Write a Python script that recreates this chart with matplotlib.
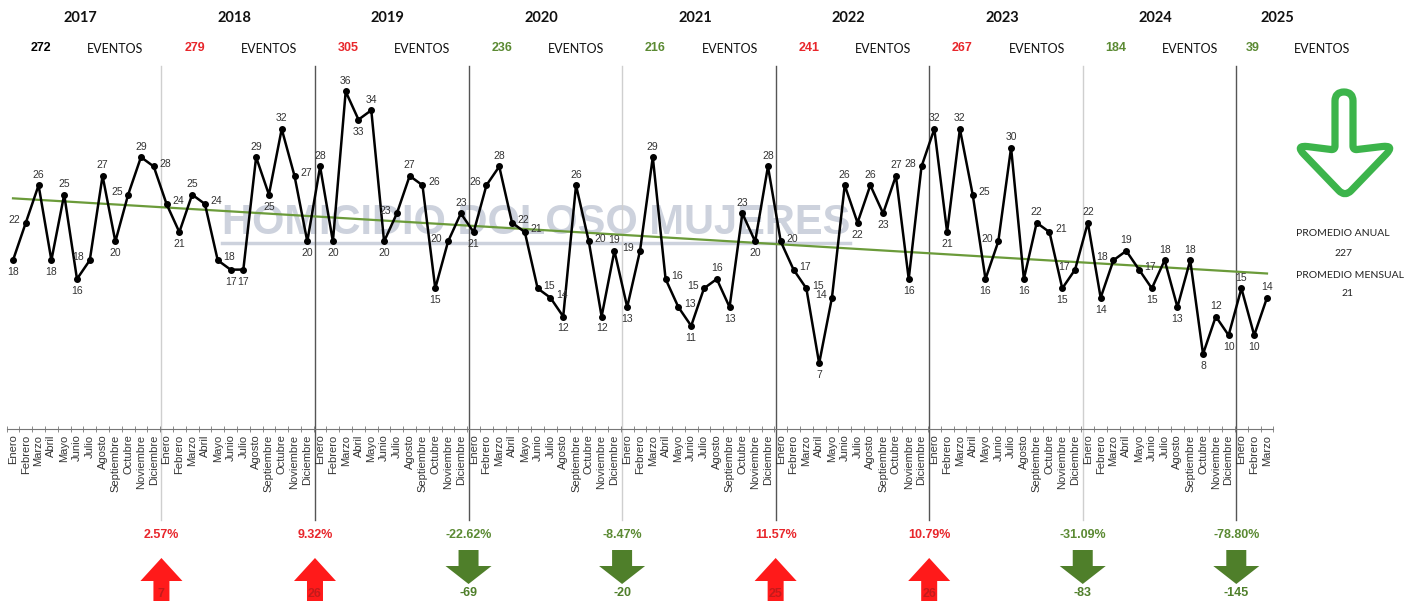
import matplotlib
matplotlib.use('Agg')
import matplotlib.pyplot as plt
import numpy as np
from matplotlib.path import Path
from matplotlib.patches import PathPatch, Polygon
from matplotlib import font_manager

# datos mensuales
meses = ['Enero', 'Febrero', 'Marzo', 'Abril', 'Mayo', 'Junio', 'Julio', 'Agosto',
         'Septiembre', 'Octubre', 'Noviembre', 'Diciembre']
anios = [2017, 2018, 2019, 2020, 2021, 2022, 2023, 2024, 2025]
v2017 = [18, 22, 26, 18, 25, 16, 18, 27, 20, 25, 29, 28]
v2018 = [24, 21, 25, 24, 18, 17, 17, 29, 25, 32, 27, 20]
v2019 = [28, 20, 36, 33, 34, 20, 23, 27, 26, 15, 20, 23]
v2020 = [21, 26, 28, 22, 21, 15, 14, 12, 26, 20, 12, 19]
v2021 = [13, 19, 29, 16, 13, 11, 15, 16, 13, 23, 20, 28]
v2022 = [20, 17, 15, 7, 14, 26, 22, 26, 23, 27, 16, 28]
v2023 = [32, 21, 32, 25, 16, 20, 30, 16, 22, 21, 15, 17]
v2024 = [22, 14, 18, 19, 17, 15, 18, 13, 18, 8, 12, 10]
v2025 = [15, 10, 14]
por_anio = [v2017, v2018, v2019, v2020, v2021, v2022, v2023, v2024, v2025]

valores = np.array(sum(por_anio, []))
etiquetas = sum([meses[:len(v)] for v in por_anio], [])
x = np.arange(len(valores))
totales = [sum(v) for v in por_anio]
cambios = np.diff(totales)
porcentajes = cambios / np.array(totales[:-1]) * 100

ROJO = '#e8262b'
VERDE = '#5b8a33'
W, H = 1414, 601

names = {f.name for f in font_manager.fontManager.ttflist}
narrow = 'Liberation Sans Narrow' if 'Liberation Sans Narrow' in names else 'Liberation Sans'
titulo = 'Lato' if 'Lato' in names else 'DejaVu Sans'
plt.rcParams['font.family'] = ['Liberation Sans', 'DejaVu Sans']

fig = plt.figure(figsize=(W / 100, H / 100), dpi=100)
ax = fig.add_axes([6.6 / W, (H - 429) / H, 1266.8 / W, 38 * 9.375 / H])
ax.patch.set_alpha(0)
ax.set_xlim(-0.5, len(valores) - 0.5)
ax.set_ylim(0, 38)
for s in ['left', 'top', 'right']:
    ax.spines[s].set_visible(False)
ax.spines['bottom'].set_color('#777777')
ax.spines['bottom'].set_linewidth(0.8)
ax.set_yticks([])
ax.set_xticks(x)
ax.set_xticklabels(etiquetas, rotation=90, fontsize=8, color='#333333')
ax.tick_params(axis='x', which='major', length=0, pad=4)
ax.set_xticks(np.arange(-0.5, len(valores)), minor=True)
ax.tick_params(axis='x', which='minor', length=4, direction='inout', color='#777777')

# marca de agua
ax.text(40.9, 22.0, 'HOMICIDIO DOLOSO MUJERES', ha='center', va='center', fontsize=30,
        weight='bold', color='#cdd2dd', zorder=0)
ax.plot([16.3, 65.4], [19.8, 19.8], color='#cdd2dd', lw=2.5, zorder=0)

# lineas de cada año
col_lineas = ['#cfcfcf', '#555555', '#555555', '#cfcfcf', '#555555', '#555555', '#cfcfcf', '#555555']
for k, c in enumerate(col_lineas, start=1):
    ax.axvline(12 * k - 0.4, ymin=-0.255, ymax=1.02, color=c, lw=1, clip_on=False, zorder=1)

# tendencia
m, b = np.polyfit(x, valores, 1)
ax.plot(x, m * x + b, color='#6b9b3a', lw=1.6, zorder=2)

ax.plot(x, valores, 'o-', color='black', lw=1.8, ms=4, zorder=3)
for i, v in enumerate(valores):
    prev = valores[i - 1] if i > 0 else v
    nxt = valores[i + 1] if i < len(valores) - 1 else v
    if v >= max(prev, nxt):
        off, ha, va = (0, 4), 'center', 'bottom'
    elif v <= min(prev, nxt):
        off, ha, va = (0, -5), 'center', 'top'
    elif nxt > prev:
        off, ha, va = (-4, 2), 'right', 'center'
    else:
        off, ha, va = (4, 2), 'left', 'center'
    ax.annotate(str(v), (i, v), xytext=off, textcoords='offset points', ha=ha, va=va,
                fontsize=7.5, color='#333333', zorder=4)

# capa en pixeles
ov = fig.add_axes([0, 0, 1, 1])
ov.set_xlim(0, W)
ov.set_ylim(H, 0)
ov.axis('off')
ov.patch.set_alpha(0)


def px(i):
    return ax.transData.transform((i, 0))[0]


# encabezados
pos_anio = [12 * k + 5.3 for k in range(8)] + [98.8]
pos_num = [12 * k + 2.2 for k in range(8)] + [96.9]
pos_ev = [12 * k + 8.0 for k in range(8)] + [102.3]
col_num = ['black'] + [ROJO if c > 0 else VERDE for c in cambios]
for k, a in enumerate(anios):
    ov.text(px(pos_anio[k]), 18, str(a), ha='center', va='center', fontsize=10.5,
            weight='bold', family=titulo, color='#111111')
    ov.text(px(pos_num[k]), 48, str(totales[k]), ha='center', va='center', fontsize=9,
            weight='bold', family=narrow, color=col_num[k])
    ov.text(px(pos_ev[k]), 49, 'EVENTOS', ha='center', va='center', fontsize=9,
            family=titulo, color='#111111')

# flechas de variacion anual
for k, (c, p) in enumerate(zip(cambios, porcentajes), start=1):
    cx = px(12 * k - 0.4)
    col = ROJO if c > 0 else VERDE
    ov.text(cx, 535, f'{p:.2f}%', ha='center', va='center', fontsize=9, weight='bold',
            family=narrow, color=col)
    if c > 0:
        pts = [(cx, 558), (cx + 21, 581), (cx + 8, 581), (cx + 8, 606), (cx - 8, 606),
               (cx - 8, 581), (cx - 21, 581)]
        ov.add_patch(Polygon(pts, closed=True, color='#ff1a1a', lw=0))
        ov.text(cx, 594, str(c), ha='center', va='center', fontsize=9, weight='bold',
                family=narrow, color='#c41a1a')
    else:
        pts = [(cx - 10, 550), (cx + 10, 550), (cx + 10, 566), (cx + 23, 566), (cx, 584),
               (cx - 23, 566), (cx - 10, 566)]
        ov.add_patch(Polygon(pts, closed=True, color='#4f7f2a', lw=0))
        ov.text(cx, 593, str(c), ha='center', va='center', fontsize=9, weight='bold',
                family=narrow, color='#4f7f2a')


# flecha grande hacia abajo
def redondeado(pts, radios):
    verts, codes = [], []
    n = len(pts)
    for i in range(n):
        p0, p1, p2 = np.array(pts[i - 1]), np.array(pts[i]), np.array(pts[(i + 1) % n])
        d1 = (p0 - p1) / np.linalg.norm(p0 - p1)
        d2 = (p2 - p1) / np.linalg.norm(p2 - p1)
        verts += [p1 + d1 * radios[i], p1, p1 + d2 * radios[i]]
        codes += [Path.MOVETO if i == 0 else Path.LINETO, Path.CURVE3, Path.CURVE3]
    verts.append(verts[0])
    codes.append(Path.CLOSEPOLY)
    return Path(verts, codes)


flecha = [(1335, 92), (1353, 92), (1353, 150), (1395, 145), (1345, 197), (1295, 145), (1335, 150)]
ov.add_patch(PathPatch(redondeado(flecha, [9, 9, 4, 13, 9, 13, 4]), fill=False,
                       edgecolor='#3cb44b', lw=5.2, joinstyle='round'))

prom_anual = round(sum(totales) / len(totales))
prom_mensual = round(valores.mean())
ov.text(1343, 234, 'PROMEDIO ANUAL', ha='center', va='center', fontsize=7.5, family=titulo, color='#222222')
ov.text(1343, 253, str(prom_anual), ha='center', va='center', fontsize=7.5, family=titulo, color='#222222')
ov.text(1350, 275, 'PROMEDIO MENSUAL', ha='center', va='center', fontsize=7.5, family=titulo, color='#222222')
ov.text(1347, 294, str(prom_mensual), ha='center', va='center', fontsize=7.5, family=titulo, color='#222222')

fig.savefig('out.png', dpi=100)
